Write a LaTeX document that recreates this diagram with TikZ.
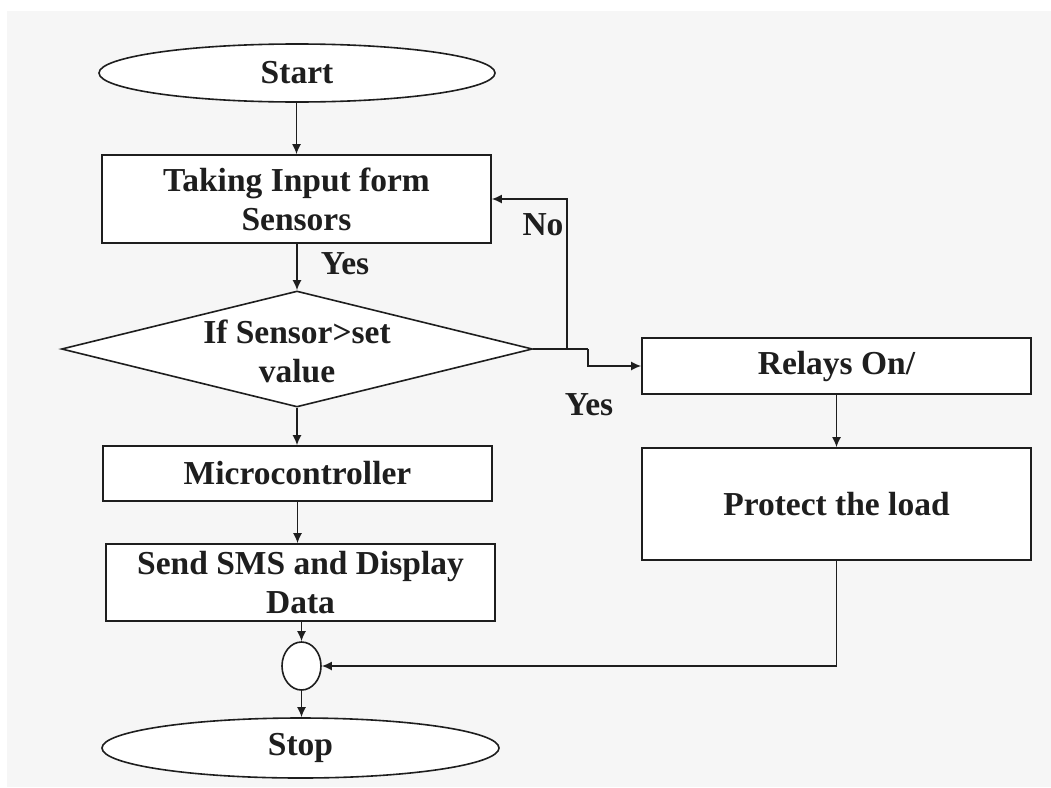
\documentclass[tikz,border=0pt]{standalone}
\usepackage{fontspec}
\setmainfont{Liberation Serif}
\usetikzlibrary{shapes.geometric,arrows.meta}
\definecolor{bg}{HTML}{F6F6F6}
\definecolor{ink}{HTML}{1E1E1E}
\begin{document}
\begin{tikzpicture}[x=1pt,y=-1pt,
  txt/.style={font=\bfseries\fontsize{33.5}{39}\selectfont, text=ink},
  box/.style={draw=ink, line width=1.6pt, fill=white, inner sep=0pt, align=center, txt},
  term/.style={box, ellipse},
  conn/.style={line width=1.6pt, draw=ink, -{Latex[length=10pt,width=9pt]}},
  lbl/.style={txt, inner sep=0pt}]
\useasboundingbox (0,0) rectangle (1051,787);
\fill[white] (0,0) rectangle (1051,787);
\fill[bg] (7,11) rectangle (1051,787);

\node[term, minimum width=396pt, minimum height=58pt] (start) at (297,73) {Start};
\node[box, minimum width=389pt, minimum height=88pt] (input) at (296.5,199) {Taking Input form\\Sensors};
\node[diamond, draw=ink, line width=1.6pt, fill=white, inner sep=0pt, minimum width=471pt, minimum height=116pt] (dia) at (297,349) {};
\node[txt, align=center, inner sep=0pt] (diatext) at (297,351) {If Sensor>set\\value};
\node[box, minimum width=389pt, minimum height=55pt] (micro) at (297.5,473.5) {Microcontroller};
\node[box, minimum width=389pt, minimum height=77pt] (send) at (300.5,582.5) {Send SMS and Display\\Data};
\node[term, minimum width=39pt, minimum height=48pt] (circ) at (301.5,666) {};
\node[term, minimum width=397pt, minimum height=60pt] (stop) at (300.5,748) {Stop};
\node[box, minimum width=389pt, minimum height=56pt] (relays) at (836.5,366) {Relays On/};
\node[box, minimum width=389pt, minimum height=112pt] (protect) at (836.5,504) {Protect the load};

\coordinate (j0) at (567,349);
\coordinate (j1) at (588,349);

\draw[conn] (start.south -| input.north) -- (input.north);
\draw[conn] (input.south -| dia.north) -- (dia.north);
\draw[conn] (dia.south) -- (dia.south |- micro.north);
\draw[conn] (micro.south) -- (micro.south |- send.north);
\draw[conn] (send.south -| circ.north) -- (circ.north);
\draw[conn] (circ.south) -- (circ.south |- stop.north);
\draw[line width=1.6pt, draw=ink] (dia.east) -- (j1);
\draw[conn] (j1) |- (relays.west);
\draw[conn] (j0) |- (input.east);
\draw[conn] (relays.south) -- (protect.north);
\draw[conn] (protect.south) |- (circ.east);

\node[lbl] (yes1) at (345,264) {Yes};
\node[lbl] (no) at (543,225) {No};
\node[lbl] (yes2) at (589,405) {Yes};
\end{tikzpicture}
\end{document}
